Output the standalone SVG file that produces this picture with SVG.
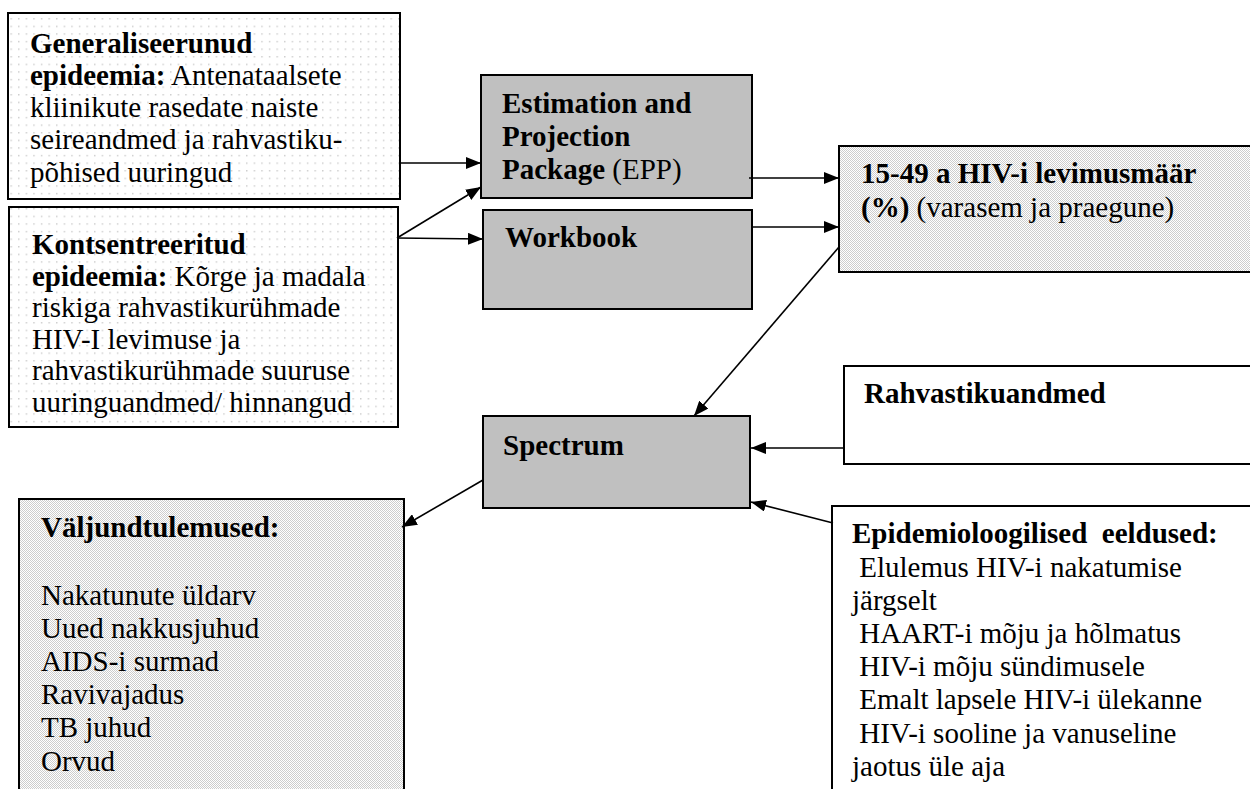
<svg xmlns="http://www.w3.org/2000/svg" width="1250" height="789" viewBox="0 0 1250 789">
<style>
text{font-family:"Liberation Serif","Times New Roman",serif;font-size:29px;fill:#000;white-space:pre}
.b{font-weight:bold}
.box{stroke:#000;stroke-width:2}
.sparse{fill:url(#sparse)}
.dense{fill:url(#dense)}
.gray{fill:#c0c0c0}
.white{fill:#fff}
.con line{stroke:#000;stroke-width:1.6;marker-end:url(#arr)}
</style>
<defs>
<pattern id="sparse" width="7.6" height="7.6" patternUnits="userSpaceOnUse">
<rect width="7.6" height="7.6" fill="#fff"/>
<rect x="3" y="3" width="1.2" height="1.2" fill="#b8b8b8"/>
</pattern>
<pattern id="dense" width="2" height="2" patternUnits="userSpaceOnUse">
<rect width="2" height="2" fill="#fff"/>
<rect x="0" y="0" width="1" height="1" fill="#cdcdcd"/>
<rect x="1" y="1" width="1" height="1" fill="#cdcdcd"/>
</pattern>
<marker id="arr" markerUnits="userSpaceOnUse" markerWidth="16" markerHeight="12" refX="15" refY="6" orient="auto">
<path d="M0,0 L15,6 L0,12 z" fill="#000"/>
</marker>
</defs>

<g id="generaliseerunud">
<rect class="box sparse" x="8" y="13" width="392" height="186"/>
<text x="30" y="53" class="b">Generaliseerunud</text>
<text x="30" y="85"><tspan class="b">epideemia:</tspan> Antenataalsete</text>
<text x="30" y="117">kliinikute rasedate naiste</text>
<text x="30" y="149">seireandmed ja rahvastiku-</text>
<text x="30" y="182">põhised uuringud</text>
</g>

<g id="kontsentreeritud">
<rect class="box sparse" x="9" y="207" width="389" height="220"/>
<text x="32" y="254" class="b">Kontsentreeritud</text>
<text x="32" y="286"><tspan class="b">epideemia:</tspan> Kõrge ja madala</text>
<text x="32" y="317">riskiga rahvastikurühmade</text>
<text x="32" y="349">HIV-I levimuse ja</text>
<text x="32" y="380">rahvastikurühmade suuruse</text>
<text x="32" y="412">uuringuandmed/ hinnangud</text>
</g>

<g id="epp">
<rect class="box gray" x="481" y="75" width="271" height="123"/>
<text x="502" y="113" class="b">Estimation and</text>
<text x="502" y="146" class="b">Projection</text>
<text x="502" y="179"><tspan class="b">Package</tspan> (EPP)</text>
</g>

<g id="workbook">
<rect class="box gray" x="483" y="210" width="269" height="99"/>
<text x="505" y="247" class="b">Workbook</text>
</g>

<g id="levimus">
<rect class="box dense" x="839" y="146" width="420" height="126"/>
<text x="861" y="183" class="b">15-49 a HIV-i levimusmäär</text>
<text x="861" y="217"><tspan class="b">(%)</tspan> (varasem ja praegune)</text>
</g>

<g id="spectrum">
<rect class="box gray" x="483" y="416" width="267" height="92"/>
<text x="503" y="455" class="b">Spectrum</text>
</g>

<g id="rahvastikuandmed">
<rect class="box white" x="844" y="366" width="420" height="98"/>
<text x="864" y="403" class="b">Rahvastikuandmed</text>
</g>

<g id="valjund">
<rect class="box dense" x="19" y="499" width="385" height="300"/>
<text x="41" y="537" class="b">Väljundtulemused:</text>
<text x="41" y="605">Nakatunute üldarv</text>
<text x="41" y="638">Uued nakkusjuhud</text>
<text x="41" y="671">AIDS-i surmad</text>
<text x="41" y="704">Ravivajadus</text>
<text x="41" y="737">TB juhud</text>
<text x="41" y="771">Orvud</text>
</g>

<g id="epidemio">
<rect class="box white" x="832" y="506" width="430" height="300"/>
<text x="852" y="543" class="b">Epidemioloogilised  eeldused:</text>
<text x="852" y="577"> Elulemus HIV-i nakatumise</text>
<text x="852" y="610">järgselt</text>
<text x="852" y="643"> HAART-i mõju ja hõlmatus</text>
<text x="852" y="676"> HIV-i mõju sündimusele</text>
<text x="852" y="709"> Emalt lapsele HIV-i ülekanne</text>
<text x="852" y="743"> HIV-i sooline ja vanuseline</text>
<text x="852" y="776">jaotus üle aja</text>
</g>

<g id="connectors" class="con">
<line x1="400" y1="163" x2="481" y2="163"/>
<line x1="397" y1="238" x2="481" y2="187"/>
<line x1="397" y1="238" x2="483" y2="239"/>
<line x1="749" y1="178" x2="839" y2="178"/>
<line x1="752" y1="227" x2="839" y2="227"/>
<line x1="839" y1="247" x2="694" y2="416"/>
<line x1="844" y1="448" x2="751" y2="448"/>
<line x1="833" y1="523" x2="751" y2="502"/>
<line x1="483" y1="480" x2="402" y2="527"/>
</g>
</svg>
